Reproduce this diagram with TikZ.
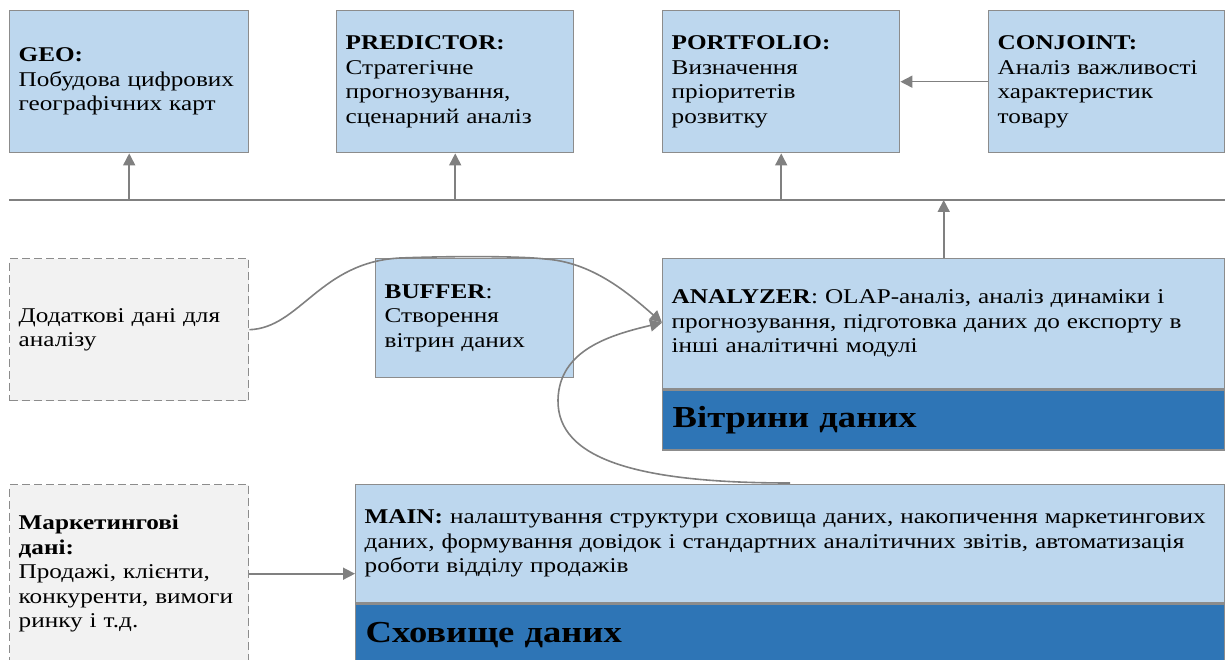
\documentclass[tikz,border=0pt]{standalone}
\usepackage{fontspec}
\setmainfont{Liberation Serif}[FakeStretch=1.2]
\usetikzlibrary{arrows.meta}

\definecolor{boxfill}{HTML}{BDD7EE}
\definecolor{boxline}{HTML}{8C8C8C}
\definecolor{bandfill}{HTML}{2E75B6}
\definecolor{srcfill}{HTML}{F2F2F2}
\definecolor{wire}{HTML}{808080}

\tikzset{
  bodyfont/.style={font=\fontsize{21}{24.5}\selectfont},
  module/.style 2 args={draw=boxline, line width=1.4pt, fill=boxfill,
    anchor=north west, inner xsep=9pt, inner ysep=0pt, align=left,
    text width=#1pt-18pt, minimum height=#2pt, bodyfont},
  source/.style 2 args={module={#1}{#2}, fill=srcfill, dash pattern=on 8pt off 4pt},
  layer/.style 2 args={draw=boxline, line width=1.4pt, fill=bandfill,
    anchor=north west, inner xsep=10pt, inner ysep=0pt, align=left,
    text width=#1pt-20pt, minimum height=#2pt,
    font=\fontsize{30.5}{34}\selectfont\bfseries},
  wire/.style={draw=wire, line width=1.6pt},
  feed/.style={wire, -{Triangle[length=12pt,width=12pt]}},
}

\begin{document}
\begin{tikzpicture}[x=1pt,y=-1pt]
\useasboundingbox (0,0) rectangle (1225,660);

% analytic modules
\node[module={239}{142}] (geo) at (9,10)
  {\textbf{GEO:}\\Побудова цифрових\\географічних карт};
\node[module={237}{142}] (predictor) at (336,10)
  {\textbf{PREDICTOR:}\\Стратегічне\\прогнозування,\\сценарний аналіз};
\node[module={237}{142}] (portfolio) at (662,10)
  {\textbf{PORTFOLIO:}\\Визначення\\пріоритетів\\розвитку};
\node[module={236}{142}] (conjoint) at (988,10)
  {\textbf{CONJOINT:}\\Аналіз важливості\\характеристик\\товару};

% common export bus
\coordinate (busL) at (9,200);
\coordinate (busR) at (1225,200);
\draw[wire] (busL) -- (busR);

% data marts level
\node[source={239}{142}] (extra) at (9,258)
  {Додаткові дані для\\аналізу};
\node[module={198}{119}] (buffer) at (375,258)
  {\textbf{BUFFER}:\\Створення\\вітрин даних};
\node[module={562}{130}] (analyzer) at (662,258)
  {\textbf{ANALYZER}: OLAP-аналіз, аналіз динаміки і\\прогнозування, підготовка даних до експорту в\\інші аналітичні модулі};
\node[layer={562}{60}] (marts) at (analyzer.south west) {Вітрини даних};

% data warehouse level
\node[source={239}{178}] (market) at (9,484)
  {\textbf{Маркетингові}\\\textbf{дані:}\\Продажі, клієнти,\\конкуренти, вимоги\\ринку і т.д.};
\node[module={869}{118}] (main) at (355,484)
  {\textbf{MAIN:} налаштування структури сховища даних, накопичення маркетингових\\даних, формування довідок і стандартних аналітичних звітів, автоматизація\\роботи відділу продажів};
\node[layer={869}{62}] (store) at (main.south west) {Сховище даних};

% connectors
\draw[feed] (geo.south |- busL) -- (geo.south);
\draw[feed] (predictor.south |- busL) -- (predictor.south);
\draw[feed] (portfolio.south |- busL) -- (portfolio.south);
\draw[feed] (analyzer.north) -- (analyzer.north |- busL);
\draw[feed] (conjoint.west) -- (portfolio.east);
\draw[feed] (market.east) -- (market.east -| main.west);

\coordinate (mainOut) at (790,483);
\draw[feed] (extra.east) .. controls (300,328) and (320,262) .. (400,258)
  .. controls (450,256) and (520,256) .. (545,259)
  .. controls (590,262) and (625,290) .. ([yshift=1pt]analyzer.west);
\draw[feed] (mainOut) .. controls (640,483) and (557,460) .. (558,400)
  .. controls (559,350) and (610,335) .. ([yshift=1pt]analyzer.west);
\end{tikzpicture}
\end{document}
